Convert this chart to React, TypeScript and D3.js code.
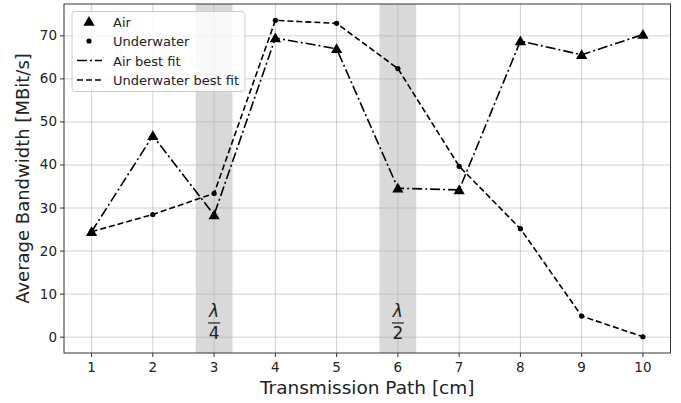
import React from 'react';
import * as d3 from 'd3';

const paths = [1, 2, 3, 4, 5, 6, 7, 8, 9, 10];
const airValues = [24.5, 46.8, 28.4, 69.5, 67.0, 34.6, 34.2, 68.8, 65.6, 70.3];
const underwaterValues = [24.5, 28.5, 33.4, 73.6, 72.9, 62.4, 39.7, 25.2, 4.9, 0.1];
const yTicks = [0, 10, 20, 30, 40, 50, 60, 70];
const bands = [
  { center: 3, label: '4' },
  { center: 6, label: '2' },
];
const legendItems = ['Air', 'Underwater', 'Air best fit', 'Underwater best fit'];

const W = 681;
const H = 403;
const margin = { top: 4, right: 10.5, bottom: 50, left: 64 };
const font = 'DejaVu Sans, sans-serif';

export default function App() {
  const x = d3.scaleLinear().domain([0.55, 10.45]).range([margin.left, W - margin.right]);
  const y = d3.scaleLinear().domain([-3.68, 77.4]).range([H - margin.bottom, margin.top]);

  const line = d3
    .line<number>()
    .x((_, i) => x(paths[i]))
    .y((d) => y(d));

  const tri = d3.symbol().type(d3.symbolTriangle).size(55)();

  const plotTop = margin.top;
  const plotBottom = H - margin.bottom;

  return (
    <div style={{ position: 'fixed', left: 0, top: 0 }}>
      <svg width={W} height={H} style={{ display: 'block', background: '#fff' }}>
        {/* shaded bands */}
        {bands.map((b) => (
          <rect
            key={b.center}
            x={x(b.center - 0.3)}
            y={plotTop}
            width={x(b.center + 0.3) - x(b.center - 0.3)}
            height={plotBottom - plotTop}
            fill="#d9d9d9"
          />
        ))}

        {/* grid */}
        {paths.map((p) => (
          <line key={'gx' + p} x1={x(p)} x2={x(p)} y1={plotTop} y2={plotBottom} stroke="#b0b0b0" strokeOpacity={0.6} strokeWidth={1} />
        ))}
        {yTicks.map((t) => (
          <line key={'gy' + t} x1={margin.left} x2={W - margin.right} y1={y(t)} y2={y(t)} stroke="#b0b0b0" strokeOpacity={0.6} strokeWidth={1} />
        ))}

        {/* lambda labels */}
        {bands.map((b) => (
          <g key={'lab' + b.center} fontFamily={font} fill="#222" textAnchor="middle">
            <text x={x(b.center)} y={y(3.3) - 6} fontSize={17} fontStyle="italic">λ</text>
            <line x1={x(b.center) - 6} x2={x(b.center) + 6} y1={y(3.3)} y2={y(3.3)} stroke="#222" strokeWidth={1.2} />
            <text x={x(b.center)} y={y(3.3) + 16} fontSize={17}>{b.label}</text>
          </g>
        ))}

        {/* lines */}
        <path d={line(airValues) || ''} fill="none" stroke="#000" strokeWidth={1.6} strokeDasharray="10,3,2,3" />
        <path d={line(underwaterValues) || ''} fill="none" stroke="#000" strokeWidth={1.6} strokeDasharray="6,3" />

        {/* markers */}
        {airValues.map((v, i) => (
          <path key={'a' + i} d={tri || ''} transform={`translate(${x(paths[i])},${y(v) + 1})`} fill="#000" />
        ))}
        {underwaterValues.map((v, i) => (
          <circle key={'u' + i} cx={x(paths[i])} cy={y(v)} r={2.6} fill="#000" />
        ))}

        {/* frame */}
        <rect x={margin.left} y={plotTop} width={W - margin.right - margin.left} height={plotBottom - plotTop} fill="none" stroke="#333" strokeWidth={1} />

        {/* x ticks */}
        {paths.map((p) => (
          <g key={'tx' + p}>
            <line x1={x(p)} x2={x(p)} y1={plotBottom} y2={plotBottom + 4} stroke="#333" />
            <text x={x(p)} y={plotBottom + 19} textAnchor="middle" fontFamily={font} fontSize={13.5} fill="#222">{p}</text>
          </g>
        ))}
        {/* y ticks */}
        {yTicks.map((t) => (
          <g key={'ty' + t}>
            <line x1={margin.left - 4} x2={margin.left} y1={y(t)} y2={y(t)} stroke="#333" />
            <text x={margin.left - 7} y={y(t) + 4.5} textAnchor="end" fontFamily={font} fontSize={13.5} fill="#222">{t}</text>
          </g>
        ))}

        {/* axis labels */}
        <text x={(margin.left + W - margin.right) / 2} y={H - 9} textAnchor="middle" fontFamily={font} fontSize={18.5} fill="#222">
          Transmission Path [cm]
        </text>
        <text transform={`translate(29,${(plotTop + plotBottom) / 2}) rotate(-90)`} textAnchor="middle" fontFamily={font} fontSize={18} fill="#222">
          Average Bandwidth [MBit/s]
        </text>

        {/* legend */}
        <g fontFamily={font} fontSize={13} fill="#222">
          <rect x={72} y={11.5} width={173} height={80} rx={3} fill="#fff" fillOpacity={0.8} stroke="#ccc" />
          {legendItems.map((name, i) => {
            const cy = 21.5 + i * 19.5;
            return (
              <g key={name}>
                {i === 0 && <path d={tri || ''} transform={`translate(89,${cy + 1})`} fill="#000" />}
                {i === 1 && <circle cx={89} cy={cy} r={2.6} fill="#000" />}
                {i === 2 && <line x1={77} x2={102} y1={cy} y2={cy} stroke="#000" strokeWidth={1.6} strokeDasharray="10,3,2,3" />}
                {i === 3 && <line x1={77} x2={102} y1={cy} y2={cy} stroke="#000" strokeWidth={1.6} strokeDasharray="6,3" />}
                <text x={113} y={cy + 5}>{name}</text>
              </g>
            );
          })}
        </g>
      </svg>
    </div>
  );
}
